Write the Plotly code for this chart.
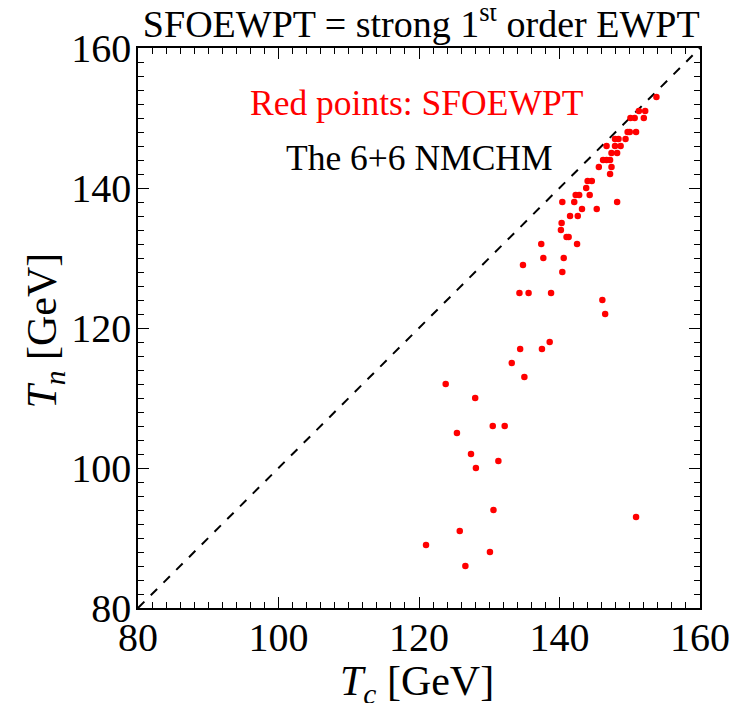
import plotly.graph_objects as go

# T_c [GeV] and T_n [GeV] of the SFOEWPT points
tc = [153.8, 151.3, 152.2, 150.1, 150.7, 152.0, 149.7, 150.0, 150.9,
      147.9, 148.4, 149.4, 146.7, 147.9, 148.7, 147.4, 148.2,
      146.2, 146.7, 147.2, 145.6, 147.4, 147.2, 144.0, 144.6, 143.8,
      142.3, 142.8, 144.3, 140.4, 142.1, 148.2, 143.2, 145.3,
      141.5, 142.6, 140.3, 140.2, 141.0, 141.3, 137.4, 142.5,
      137.7, 140.6, 134.8, 140.4, 134.3, 135.6, 138.8, 146.1, 146.5,
      138.6, 134.4, 137.5, 133.2, 135.0, 123.8, 128.0, 130.5, 132.2,
      125.4, 127.4, 131.3, 128.1, 130.6, 150.9, 125.8, 121.0, 130.1, 126.6]
tn = [153, 151, 151, 150, 150, 150, 148, 148, 148,
      147, 147, 147, 146, 146, 146, 145, 145,
      144, 144, 144, 143, 143, 142, 141, 141, 140,
      139, 139, 139, 138, 138, 138, 137, 137,
      136, 136, 135, 134, 133, 133, 132, 132,
      130, 130, 129, 128, 125, 125, 125, 124, 122,
      118, 117, 117, 115, 113, 112, 110, 106, 106,
      105, 102, 101, 100, 94, 93, 91, 89, 88, 86]

diag = [80, 160]
tick_vals = [80, 100, 120, 140, 160]
tick_text = ["80", "100", "120", "140", "160"]

FONT = "Liberation Serif, Times New Roman, Times, serif"

fig = go.Figure()
fig.add_trace(go.Scatter(x=diag, y=diag, mode="lines",
                         line=dict(color="black", width=2, dash="dash"),
                         hoverinfo="skip", showlegend=False))
fig.add_trace(go.Scatter(x=tc, y=tn, mode="markers",
                         marker=dict(color="#ff0000", size=6.5, line=dict(width=0)),
                         showlegend=False))

axis_common = dict(
    range=[80, 160], tickvals=tick_vals, ticktext=tick_text,
    ticks="inside", ticklen=11, tickwidth=1, tickcolor="black",
    showline=True, linecolor="black", linewidth=1.5, mirror="ticks",
    showgrid=False, zeroline=False,
    tickfont=dict(family=FONT, size=40, color="black"),
    minor=dict(dtick=2, ticks="inside", ticklen=6, tickwidth=1,
               tickcolor="black", showgrid=False),
)

fig.update_layout(
    width=738, height=695,
    margin=dict(l=130, r=46, t=40, b=95),
    paper_bgcolor="white", plot_bgcolor="white",
    title=dict(text="SFOEWPT = strong 1<sup>st</sup> order EWPT",
               xref="paper", x=0.504, xanchor="center",
               yref="container", y=0.977, yanchor="middle",
               font=dict(family=FONT, size=38, color="black")),
    xaxis=dict(axis_common, ticklabelstandoff=-7),
    yaxis=dict(axis_common, ticklabelstandoff=-3),
    annotations=[
        dict(text="Red points: SFOEWPT", xref="paper", yref="paper",
             x=0.496, y=0.902, xanchor="center", yanchor="middle", showarrow=False,
             font=dict(family=FONT, size=35.5, color="#ff0000")),
        dict(text="The 6+6 NMCHM", xref="paper", yref="paper",
             x=0.5, y=0.804, xanchor="center", yanchor="middle", showarrow=False,
             font=dict(family=FONT, size=35.5, color="black")),
        dict(text="<i>T<sub>c</sub></i> [GeV]", xref="paper", yref="paper",
             x=0.496, y=-0.136, xanchor="center", yanchor="middle", showarrow=False,
             font=dict(family=FONT, size=42, color="black")),
        dict(text="<i>T<sub>n</sub></i> [GeV]", xref="paper", yref="paper",
             x=-0.165, y=0.496, xanchor="center", yanchor="middle", showarrow=False,
             textangle=-90,
             font=dict(family=FONT, size=42, color="black")),
    ],
)

fig.write_html("out.html")
